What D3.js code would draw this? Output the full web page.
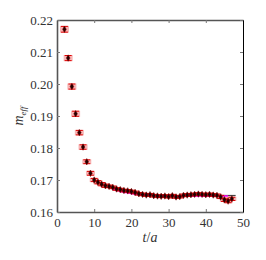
<!DOCTYPE html>
<html>
<head>
<meta charset="utf-8">
<script src="https://cdn.jsdelivr.net/npm/d3@7"></script>
<style>
  body { margin: 0; background: #fff; }
</style>
</head>
<body>
<script>
// effective mass data
const tVals = [2,3,4,5,6,7,8,9,10,11,12,13,14,15,16,17,18,19,20,21,22,23,24,25,26,27,28,29,30,31,32,33,34,35,36,37,38,39,40,41,42,43,44,45,46,47];
const mEff = [0.2171,0.2081,0.1992,0.1907,0.1848,0.1803,0.1757,0.1721,0.1700,0.1693,0.1687,0.1682,0.1680,0.1677,0.1672,0.1670,0.1667,0.1666,0.1664,0.1661,0.1657,0.1655,0.1653,0.1654,0.1651,0.1650,0.1649,0.1650,0.1648,0.1651,0.1647,0.1648,0.1652,0.1653,0.1654,0.1655,0.1656,0.1655,0.1654,0.1655,0.1653,0.1652,0.1647,0.1638,0.1634,0.1641];
const mErr = [0.0009,0.0008,0.0008,0.0008,0.0007,0.0007,0.0006,0.0006,0.0005,0.0005,0.0005,0.0005,0.0004,0.0004,0.0004,0.0004,0.0004,0.0004,0.0004,0.0004,0.0004,0.0004,0.0004,0.0004,0.0004,0.0004,0.0004,0.0004,0.0004,0.0004,0.0004,0.0004,0.0004,0.0004,0.0004,0.0004,0.0004,0.0004,0.0004,0.0004,0.0004,0.0004,0.0005,0.0005,0.0005,0.0005];
// fit curve
const fitT = [15,16,17,18,19,20,22,24,26,28,30,32,36,40,46];
const fitM = [0.1672,0.1668,0.1665,0.1662,0.1660,0.1658,0.1655,0.1653,0.1652,0.1651,0.16505,0.1650,0.1650,0.1650,0.1650];
// plateau band
const bandT = [44, 48];
const bandM = [0.1649, 0.16515, 0.1654];

const xTicks = [0,10,20,30,40,50];
const yTicks = [0.16,0.17,0.18,0.19,0.20,0.21,0.22];

const W = 266, H = 260;
const m = {left: 57, right: 23, top: 20, bottom: 48};
const serif = "Liberation Serif";

const svg = d3.select("body").append("svg").attr("width", W).attr("height", H);

const x = d3.scaleLinear().domain([0, 50]).range([m.left, W - m.right]);
const y = d3.scaleLinear().domain([0.16, 0.22]).range([H - m.bottom, m.top]);

// plateau band
svg.append("rect")
  .attr("x", x(bandT[0])).attr("width", x(bandT[1]) - x(bandT[0]))
  .attr("y", y(bandM[2])).attr("height", y(bandM[0]) - y(bandM[2]))
  .attr("fill", "#bbb");
svg.append("line")
  .attr("x1", x(bandT[0])).attr("x2", x(bandT[1]))
  .attr("y1", y(bandM[1])).attr("y2", y(bandM[1]))
  .attr("stroke", "#444").attr("stroke-width", 1);

const pts = tVals.map((t, i) => ({t, v: mEff[i], e: mErr[i]}));

// pink error boxes
svg.append("g").selectAll("rect").data(pts).enter().append("rect")
  .attr("x", d => x(d.t) - 4.5).attr("width", 9)
  .attr("y", d => y(d.v + d.e) - 0.5).attr("height", d => y(d.v - d.e) - y(d.v + d.e) + 1)
  .attr("fill", "#f07878").attr("opacity", 0.55);

// fit curve
svg.append("path")
  .datum(fitT.map((t, i) => [t, fitM[i]]))
  .attr("d", d3.line().x(d => x(d[0])).y(d => y(d[1])).curve(d3.curveMonotoneX))
  .attr("fill", "none").attr("stroke", "#ff00ff").attr("stroke-width", 1.5);

// red error bars
const eb = svg.append("g").attr("stroke", "#e00000").attr("stroke-width", 1);
eb.selectAll(".v").data(pts).enter().append("line")
  .attr("x1", d => x(d.t)).attr("x2", d => x(d.t))
  .attr("y1", d => y(d.v + d.e)).attr("y2", d => y(d.v - d.e));
eb.selectAll(".ct").data(pts).enter().append("line")
  .attr("x1", d => x(d.t) - 3.5).attr("x2", d => x(d.t) + 3.5)
  .attr("y1", d => y(d.v + d.e)).attr("y2", d => y(d.v + d.e));
eb.selectAll(".cb").data(pts).enter().append("line")
  .attr("x1", d => x(d.t) - 3.5).attr("x2", d => x(d.t) + 3.5)
  .attr("y1", d => y(d.v - d.e)).attr("y2", d => y(d.v - d.e));

// diamonds
svg.append("g").selectAll("path").data(pts).enter().append("path")
  .attr("d", d3.symbol(d3.symbolDiamond, 12))
  .attr("transform", d => `translate(${x(d.t)},${y(d.v)})`)
  .attr("fill", "#200").attr("stroke", "#800").attr("stroke-width", 0.5);

// axes
const grey = "#555";
const axB = svg.append("g").attr("transform", `translate(0,${H - m.bottom})`)
  .call(d3.axisBottom(x).tickValues(xTicks).tickSizeInner(-3).tickSizeOuter(0).tickPadding(6));
const axT = svg.append("g").attr("transform", `translate(0,${m.top})`)
  .call(d3.axisTop(x).tickValues(xTicks).tickSizeInner(-3).tickSizeOuter(0).tickFormat(""));
const axL = svg.append("g").attr("transform", `translate(${m.left},0)`)
  .call(d3.axisLeft(y).tickValues(yTicks).tickSizeInner(-3).tickSizeOuter(0).tickPadding(4).tickFormat(d3.format(".2f")));
const axR = svg.append("g").attr("transform", `translate(${W - m.right},0)`)
  .call(d3.axisRight(y).tickValues(yTicks).tickSizeInner(-3).tickSizeOuter(0).tickFormat(""));

[axB, axT, axL].forEach(g => {
  g.select(".domain").attr("stroke", grey).attr("stroke-width", 1.6);
  g.selectAll(".tick line").attr("stroke", "#777").attr("stroke-width", 1);
});
axR.select(".domain").attr("stroke", "#000").attr("stroke-width", 1);
axR.selectAll(".tick line").attr("stroke", "#777").attr("stroke-width", 1);
[axB, axL].forEach(g => {
  g.attr("font-family", serif).attr("font-size", 13);
  g.selectAll(".tick text").attr("fill", "#333");
});

// labels
const xl = svg.append("text")
  .attr("x", x(25)).attr("y", 242)
  .attr("text-anchor", "middle").attr("font-family", serif).attr("font-size", 14).attr("fill", "#333");
xl.append("tspan").attr("font-style", "italic").text("t");
xl.append("tspan").text("/");
xl.append("tspan").attr("font-style", "italic").text("a");

const yl = svg.append("text")
  .attr("transform", `translate(23,116) rotate(-90)`)
  .attr("text-anchor", "middle").attr("font-family", serif).attr("font-size", 14).attr("fill", "#333");
yl.append("tspan").attr("font-style", "italic").text("m");
yl.append("tspan").attr("font-size", 9).attr("font-style", "italic").attr("dy", 2.5).text("eff");
</script>
</body>
</html>
